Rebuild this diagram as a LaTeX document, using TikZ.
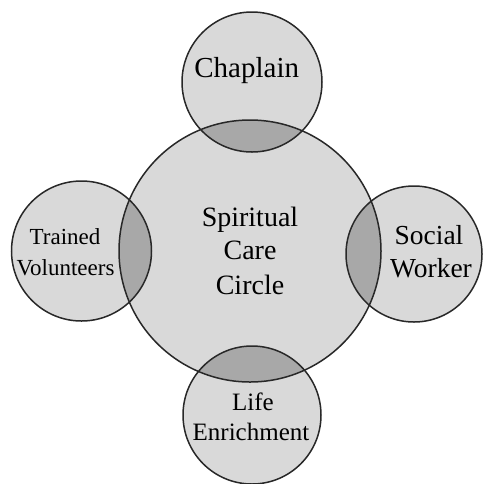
\documentclass[tikz,border=0pt]{standalone}
\usepackage{fontspec}
\setmainfont{Liberation Serif}
\definecolor{lightfill}{RGB}{217,217,217}
\definecolor{darkfill}{RGB}{168,168,168}
\definecolor{edge}{RGB}{40,40,40}
\tikzset{
  ring/.style={circle, draw=edge, line width=1.5pt, inner sep=0pt},
  lbl/.style={anchor=base, inner sep=0pt, text=black},
}
\begin{document}
\begin{tikzpicture}[x=1pt, y=-1pt]
\useasboundingbox (0,0) rectangle (484,483);
% light fills
\fill[lightfill] (250,251) circle (131);
\fill[lightfill] (252,82) circle (70);
\fill[lightfill] (81.5,251) circle (70);
\fill[lightfill] (414,254) circle (68);
\fill[lightfill] (252,415) circle (69);
% overlaps
\begin{scope}
\clip (250,251) circle (131);
\fill[darkfill] (252,82) circle (70);
\fill[darkfill] (81.5,251) circle (70);
\fill[darkfill] (414,254) circle (68);
\fill[darkfill] (252,415) circle (69);
\end{scope}
% outlines
\node[ring, minimum size=262pt] (care) at (250,251) {};
\node[ring, minimum size=140pt] (chap) at (252,82) {};
\node[ring, minimum size=140pt] (vol) at (81.5,251) {};
\node[ring, minimum size=136pt] (soc) at (414,254) {};
\node[ring, minimum size=138pt] (life) at (252,415) {};
% labels
\node[lbl] (tchap) at (246.7,77.3) {\fontsize{29}{33}\selectfont Chaplain};
\node[lbl] (tsp) at (250,226.7) {\fontsize{28}{33}\selectfont Spiritual};
\node[lbl] (tca) at (250,259.3) {\fontsize{28}{33}\selectfont Care};
\node[lbl] (tci) at (250,294) {\fontsize{28}{33}\selectfont Circle};
\node[lbl] (tso) at (429,244.3) {\fontsize{27.5}{33}\selectfont Social};
\node[lbl] (two) at (431,277.3) {\fontsize{27.5}{33}\selectfont Worker};
\node[lbl] (ttr) at (65,244) {\fontsize{23}{30}\selectfont Trained};
\node[lbl] (tvo) at (65.5,275) {\fontsize{23}{30}\selectfont Volunteers};
\node[lbl] (tli) at (253,410) {\fontsize{25}{30}\selectfont Life};
\node[lbl] (ten) at (251,440) {\fontsize{25}{30}\selectfont Enrichment};
\end{tikzpicture}
\end{document}
